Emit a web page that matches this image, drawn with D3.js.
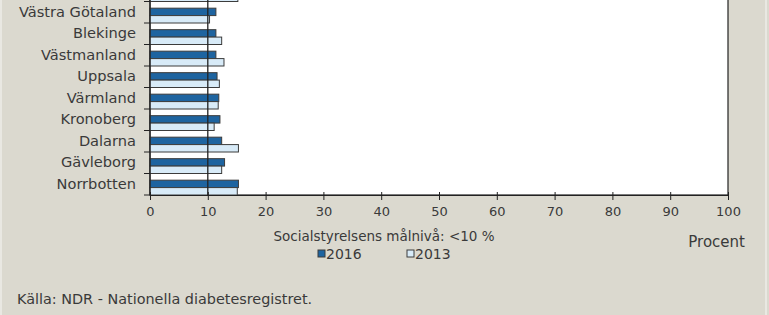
<!DOCTYPE html>
<html>

<head>
  <meta http-equiv="content-type" content="text/html; charset=utf-8">
  <title>HbA1c &gt; 70 per län</title>
  <style>
    body { margin: 0; background: #dbd9cf; }
    svg#canvas { display: block; font-family: "DejaVu Sans", sans-serif; }
  </style>
</head>

<body>
  <svg id="canvas"></svg>

  <script src="https://d3js.org/d3.v7.min.js"></script>
  <script>

    // top row is cut off in the picture, only its 2013 bar shows
    const regions = ["Jämtland", "Västra Götaland", "Blekinge", "Västmanland", "Uppsala", "Värmland",
      "Kronoberg", "Dalarna", "Gävleborg", "Norrbotten"];
    const values2016 = [11.2, 11.4, 11.4, 11.4, 11.6, 11.9, 12.1, 12.4, 12.9, 15.3];
    const values2013 = [15.2, 10.3, 12.4, 12.8, 12.0, 11.8, 11.1, 15.3, 12.4, 15.1];
    const xTicks = [0, 10, 20, 30, 40, 50, 60, 70, 80, 90, 100];
    const target = 10;
    const seriesNames = ["2016", "2013"];

    const W = 769, H = 315;
    const plot = { left: 150, right: 728, bottom: 195, rowH: 21.5 };
    const col2016 = "#1e64a0", col2013 = "#d8ebf8", edge = "#3c3c3c", ink = "#3a3a3a";

    const svg = d3.select("svg#canvas").attr("width", W).attr("height", H);

    svg.append("rect")
      .attr("x", 1).attr("y", -2).attr("width", W - 4).attr("height", H + 4)
      .attr("fill", "#dbd9cf").attr("stroke", "#e9e8e2").attr("stroke-width", 2);

    const x = d3.scaleLinear().domain([0, 100]).range([plot.left, plot.right]);
    const y = d3.scaleBand().domain(regions)
      .range([plot.bottom - regions.length * plot.rowH, plot.bottom]);
    const bh = y.bandwidth() * 0.345;

    // plot area
    svg.append("rect")
      .attr("x", plot.left).attr("y", y.range()[0])
      .attr("width", plot.right - plot.left).attr("height", plot.bottom - y.range()[0])
      .attr("fill", "#fff").attr("stroke", "#222").attr("stroke-width", 1.2);

    const rows = regions.map((r, i) => ({ r: r, v16: values2016[i], v13: values2013[i] }));

    const g = svg.append("g");
    g.selectAll(".b16").data(rows).enter().append("rect")
      .attr("class", "b16")
      .attr("x", x(0))
      .attr("y", d => y(d.r) + y.bandwidth() - 2 * bh)
      .attr("width", d => x(d.v16) - x(0))
      .attr("height", bh)
      .attr("fill", col2016).attr("stroke", edge).attr("stroke-width", 1);
    g.selectAll(".b13").data(rows).enter().append("rect")
      .attr("class", "b13")
      .attr("x", x(0))
      .attr("y", d => y(d.r) + y.bandwidth() - bh)
      .attr("width", d => x(d.v13) - x(0))
      .attr("height", bh)
      .attr("fill", col2013).attr("stroke", edge).attr("stroke-width", 1);

    // målnivå line
    svg.append("line")
      .attr("x1", x(target)).attr("x2", x(target))
      .attr("y1", y.range()[0]).attr("y2", plot.bottom)
      .attr("stroke", "#222").attr("stroke-width", 1.3);

    // x axis
    const xAxis = svg.append("g")
      .attr("transform", "translate(0," + plot.bottom + ")")
      .call(d3.axisBottom(x).tickValues(xTicks).tickSizeInner(5).tickSizeOuter(0).tickPadding(7));
    xAxis.select(".domain").attr("stroke", "#222").attr("stroke-width", 1.2);
    xAxis.selectAll(".tick line").attr("y1", -3).attr("stroke", "#222");
    xAxis.selectAll("text").attr("fill", ink).style("font-size", "13px").style("font-family", "DejaVu Sans");

    // y axis: labels at centres, ticks at row boundaries
    const yAxis = svg.append("g")
      .attr("transform", "translate(" + plot.left + ",0)")
      .call(d3.axisLeft(y).tickSize(0).tickPadding(14));
    yAxis.select(".domain").remove();
    yAxis.selectAll("text").attr("fill", ink).style("font-size", "14.6px").style("font-family", "DejaVu Sans");
    // the label of the cut-off row lies above the picture
    yAxis.selectAll(".tick").filter(d => y(d) + y.bandwidth() / 2 < 6).remove();
    svg.selectAll(".ytick").data(regions).enter().append("line")
      .attr("x1", plot.left - 6).attr("x2", plot.left)
      .attr("y1", d => y(d) + y.bandwidth()).attr("y2", d => y(d) + y.bandwidth())
      .attr("stroke", "#222");
    svg.append("line")
      .attr("x1", plot.left).attr("x2", plot.left)
      .attr("y1", y.range()[0]).attr("y2", plot.bottom)
      .attr("stroke", "#222").attr("stroke-width", 1.2);

    const txt = (s, tx, ty, size, anchor) => svg.append("text")
      .attr("x", tx).attr("y", ty).attr("text-anchor", anchor || "start")
      .attr("fill", ink).style("font-size", size + "px").text(s);

    txt("Socialstyrelsens målnivå: <10 %", 384, 241, 13.5, "middle");
    txt("Procent", 745, 247, 15, "end");

    // legend
    const legX = [318, 407];
    seriesNames.forEach((s, i) => {
      svg.append("rect")
        .attr("x", legX[i]).attr("y", 250).attr("width", 7).attr("height", 7)
        .attr("fill", i == 0 ? col2016 : col2013).attr("stroke", edge).attr("stroke-width", 1);
      txt(s, legX[i] + 8, 259, 14);
    });

    txt("Källa: NDR - Nationella diabetesregistret.", 17, 304, 14.4);

  </script>
</body>

</html>
